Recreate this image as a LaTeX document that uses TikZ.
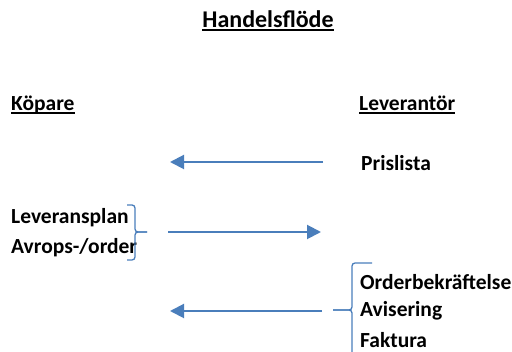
\documentclass[tikz,border=0pt]{standalone}
\usepackage{fontspec}
\setmainfont{Carlito}
\usetikzlibrary{arrows.meta}
\definecolor{flowblue}{HTML}{4A7EBB}
\newcommand{\thickul}[1]{\setbox0\hbox{#1}\rlap{\rule[-3pt]{\wd0}{1.8pt}}\box0}
\tikzset{
	lbl/.style={anchor=west,inner sep=0pt,font=\fontsize{21.5}{25}\selectfont\bfseries},
	flow/.style={draw=flowblue,line width=2pt,-{Triangle[length=14pt,width=14pt]}},
	brace/.style={draw=flowblue,line width=1.3pt,rounded corners=3pt}
}
\begin{document}
\begin{tikzpicture}[x=1pt,y=-1pt]
		\useasboundingbox (0,0) rectangle (512,352);
		\node [inner sep=0pt,font=\fontsize{24}{28}\selectfont\bfseries] (title) at (268,21) {\thickul{Handelsflöde}};
		\node [lbl] (kop) at (11,105) {\thickul{Köpare}};
		\node [lbl] (lev) at (359,105) {\thickul{Leverantör}};
		\node [lbl] (pris) at (361,163) {Prislista};
		\node [lbl] (plan) at (11,218) {Leveransplan};
		\node [lbl] (avrop) at (11,248) {Avrops-/order};
		\node [lbl] (obk) at (360,282) {Orderbekräftelse};
		\node [lbl] (avis) at (360,311) {Avisering};
		\node [lbl] (fakt) at (360,340) {Faktura};
		% arrows
		\coordinate (a1s) at (323,162);
		\coordinate (a1e) at (170,162);
		\coordinate (a2s) at (168,232);
		\coordinate (a2e) at (321,232);
		\coordinate (a3s) at (322,311);
		\coordinate (a3e) at (170,311);
		\draw [flow] (a1s) to (a1e);
		\draw [flow] (a2s) to (a2e);
		\draw [flow] (a3s) to (a3e);
		% braces
		\draw [brace] (127,205) -- (135,205) -- (135,232) -- (147,232);
		\draw [brace] (147,232) -- (135,232) -- (135,260) -- (127,260);
		\draw [brace] (372,263) -- (352,263) -- (352,310) -- (333,310);
		\draw [brace] (333,310) -- (352,310) -- (352,356) -- (372,356);
\end{tikzpicture}
\end{document}
